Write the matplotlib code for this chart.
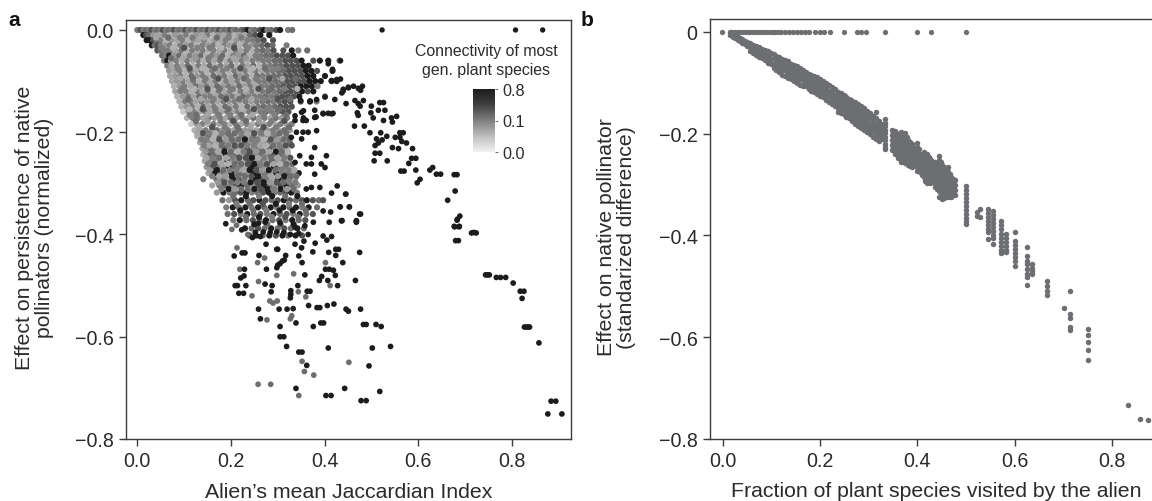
import numpy as np
import matplotlib
matplotlib.use("Agg")
import matplotlib.pyplot as plt
from matplotlib.colors import LinearSegmentedColormap, TwoSlopeNorm
from matplotlib.cm import ScalarMappable

plt.rcParams['font.family'] = ['Liberation Sans', 'DejaVu Sans']
TXT = '#2b2b2b'
SP = '#3c3c3c'

# panel a: dense cloud, rows of (y, shade digits, x values), all in thousandths
levels = [0.0, 0.04, 0.06, 0.07, 0.08, 0.1, 0.12, 0.2, 0.35, 0.8]
a_rows = [
 (0, "6857", [0,7,13,19,25,31,37,43,49,55,61,67,73,79,85,91,97,103,109,115,121,127,133,139,145,151,157,163,169,175,181,187,193,199,205,211]),
 (0, "7896", [222,229,236,243,251,262,270,278,286,297,305,322,331]),
 (-10, "9876", [13,19,25]),
 (-10, "4352", [34,46,58,70,81,92,104,116,127,138,150,162,173,184,196,208,219,230]),
 (-10, "7899", [241,252,263,282]),
 (-20, "9987", [20,27,34,41]),
 (-20, "5243", [50,62,73,85,97,108,120,131,143,155,166,178,189,201,212,224,235]),
 (-20, "6788", [247,258,270,290]),
 (-30, "9786", [31,37,44,50]),
 (-30, "4625", [58,69,81,92,104,115,127,139,150,162,173,185,196,208,219,231,243]),
 (-30, "6787", [254,266,278,289,319]),
 (-40, "8756", [43,49,56,62]),
 (-40, "5362", [71,82,94,105,117,129,140,152,163,175,186,198,210,221,233,245]),
 (-40, "676889", [256,268,279,291,312,330,344,363]),
 (-50, "7596", [53,60,68]),
 (-50, "4725", [78,89,101,112,124,136,147,159,170,182,194,205,217,228,240,252]),
 (-50, "6778889", [263,275,286,298,310,322,333]),
 (-60, "6936", [57,64,72]),
 (-60, "5263", [83,95,106,118,130,141,153,164,176,188,199,211,223,234,246,258]),
 (-60, "66778889899", [269,281,293,304,316,328,340,351,376,390,408,432]),
 (-70, "535", [64,73]),
 (-70, "6372", [85,96,108,120,131,143,155,166,178,190,201,213,225,236,248,260]),
 (-70, "667788899", [272,284,296,307,319,331,343,355,366]),
 (-80, "435", [68,79]),
 (-80, "5263", [90,102,113,125,137,148,160,172,183,195,207,218,230,242,253,265]),
 (-80, "66778889989", [277,289,301,312,324,336,348,360,372,384,417]),
 (-90, "34", [70,81]),
 (-90, "6274", [93,104,116,128,140,151,163,175,186,198,210,221,233,245,256]),
 (-90, "66778888999", [268,280,292,304,316,328,340,352,364,376,401]),
 (-100, "34", [74,85]),
 (-100, "5362", [97,109,120,132,144,155,167,179,190,202,214,225,237,249,260]),
 (-100, "6677888899999", [272,284,296,308,320,332,344,356,368,380,392,415,426]),
 (-110, "24", [78,90]),
 (-110, "6374", [101,113,125,136,148,160,171,183,195,206,218,230,241,253]),
 (-110, "6677888999", [265,277,289,301,313,325,337,349,361,373,385]),
 (-120, "35", [81,92]),
 (-120, "5263", [104,116,128,139,151,163,174,186,198,210,221,233,245,256]),
 (-120, "6767888989", [268,280,292,304,316,328,340,352,364,376]),
 (-130, "24", [85,97]),
 (-130, "6375", [109,120,132,144,156,167,179,191,203,214,226,238,250]),
 (-130, "67678889", [262,274,286,298,310,322,334,346,401]),
 (-140, "25", [90,102]),
 (-140, "5364", [114,125,137,149,161,172,184,196,208,219,231,243,255]),
 (-140, "67678889", [267,279,291,303,315,327,349,369,383]),
 (-150, "24", [94,105]),
 (-150, "6273", [117,129,141,152,164,176,188,199,211,223,235,247]),
 (-150, "6767888", [258,270,282,294,306,318,330]),
 (-160, "13", [98,109]),
 (-160, "5363", [121,133,145,156,168,180,192,204,215,227,239,251]),
 (-160, "676788", [263,275,287,299,311,323]),
 (-172, "25", [106,118]),
 (-172, "6374", [130,141,153,165,177,189,200,212,224,236,248,260,272,284,296,308,320]),
 (-184, "14", [115,127]),
 (-184, "5263", [139,151,163,175,186,198,210,222,234,246,258,270,282,294,306,318,330]),
 (-196, "24", [122,134]),
 (-196, "6374", [146,158,170,182,194,206,218,230,242,254,266,278,290,302,314,326]),
 (-208, "23", [128,140]),
 (-208, "7263", [152,164,176,188,200,212,224,236,248,260,272,284,296,308,320]),
 (-220, "35", [134,146]),
 (-220, "5374", [158,170,182,194,206,218,230,242,254,266,278,290,302,314,326]),
 (-232, "37", [139,151]),
 (-232, "6284", [163,175,187,199,211,223,235,247,259,271,283,295,307,319]),
 (-244, "28", [141,153]),
 (-244, "7386", [165,177,189,201,213,225,237,249,261,273,285,297,309,321]),
 (-256, "36", [144,156]),
 (-256, "5284", [168,180,192,204,216,228,240,252,264,276,288,300,312,324]),
 (-268, "48", [148,160]),
 (-268, "6397", [172,184,196,208,220,232,244,256,268,280,292,304,316,328]),
 (-280, "39", [152,165]),
 (-280, "7496", [177,189,201,213,225,237,249,261,273,285,297,309,321,333,345]),
 (-292, "57", [141,169]),
 (-292, "6398", [181,193,205,217,229,241,253,265,277,289,301,313,325,337]),
 (-304, "35", [160,175]),
 (-304, "7489", [187,199,211,223,235,247,259,271,283,295,307,319,331,343]),
 (-318, "49", [170,184]),
 (-318, "6789", [197,209,221,233,245,257,269,281,293,305,317,329,341]),
 (-333, "7898", [236,248,261,274,287,300,313,326,339,352,362,375,388,397]),
 (-333, "7489", [182,196,209,222]),
 (-347, "6979", [190,204,217,231,244,258,271,285,298,312,325,339,352,366,384]),
 (-360, "7869", [193,207,221,235,249,263,277,291,305,319,333,347,361,375]),
 (-372, "6978", [205,219,233,247,261,275,289,303,317,331,345,359]),
 (-388, "9787", [230,244,258,272,286,300,314,328,342,356]),
 (-402, "8979", [240,254,268,282,296,310,322,338,352]),
]
# panel a: second, shifted layer that breaks up the core of the cloud
a_fill = [
 (-15, "3756", [40,66,91,118,143,170,195,222]),
 (-35, "6285", [52,76,100,128,155,180,207,236]),
 (-55, "7346", [72,97,124,152,178,206,232,258]),
 (-75, "5827", [86,112,139,166,192,220,247,273,300]),
 (-95, "3768", [92,119,146,173,200,228,254,282,310,338]),
 (-115, "6287", [96,122,150,176,204,232,259,286,314,342]),
 (-135, "7358", [109,136,163,190,218,245,272,300,327]),
 (-155, "2867", [112,140,167,195,222,249,277,304]),
 (-166, "5736", [112,126,150,174,198,222,246,270,294,318]),
 (-178, "7468", [125,150,178,205,232,260,287,314]),
 (-190, "3867", [132,160,187,214,242,270,297,324]),
 (-202, "8276", [140,167,194,222,250,277,304]),
 (-202, "3657", [128,154,181,208,236,264,291,318]),
 (-214, "5879", [148,175,202,230,257,285,312]),
 (-214, "6247", [137,161,189,216,244,271,299,325]),
 (-226, "3786", [152,180,208,235,262,290,317]),
 (-226, "5268", [142,166,194,222,249,276,304,330]),
 (-238, "7928", [158,186,214,240,268,296,322]),
 (-238, "4376", [146,172,200,227,254,282,309]),
 (-250, "6389", [160,190,218,245,272,300,327]),
 (-250, "3768", [148,175,204,232,258,286,314]),
 (-262, "8279", [165,194,222,250,277,305,332]),
 (-262, "5378", [151,180,208,236,264,291,319]),
 (-274, "9638", [170,198,226,254,281,309,336]),
 (-274, "4769", [155,184,212,240,268,295,323]),
 (-286, "3979", [175,202,230,258,286,314,340]),
 (-286, "6478", [160,188,216,244,272,300,328]),
 (-298, "8699", [186,214,242,270,298,325]),
 (-298, "4768", [172,200,228,256,284,312,338]),
 (-311, "9799", [195,222,250,278,306,334]),
 (-311, "6478", [180,208,236,264,292,320]),
 (-325, "7969", [205,232,260,288,316,342]),
 (-340, "6789", [212,240,268,296,324,352]),
 (-353, "9769", [220,248,276,304,332,360]),
 (-366, "7968", [232,260,288,316,344]),
 (-380, "9789", [250,278,306,334]),
]
a_top_x = [523, 808, 866]
a_top_y = [0, 0, 0]

# panel a: readable individual dots
a_dark_x = [.339,.403,.414,.443,.478,.489,.518,.362,.495,.408,.502,.541,.345,.352,.319,.305,.313,.305,.376,.339,.398,.392,.263,.259,.303,.320,.333,.390,.384,.406,.420,.366,.446,.451,.477,.489,.483,.510,.521,.327,.328,.328,.369,.363,.217,.227,.209,.214,.232,.273,.288,.286,.343,.428,.466,.407,.389,.394,.221,.228,.358,.229,.276,.298,.305,.314,.300,.310,.402,.410,.419,.423,.439,.207,.230,.224,.260,.317,.345,.352,.375,.409,.424,.430,.424,.475,.275,.298,.300,.337,.351,.246,.263,.189,.223,.252,.269,.284,.298,.313,.327,.345,.365,.380,.356,.397,.415,.405,.305,.337,.358,.376,.410,.437,.468,.259,.273,
 .434,.434,.440,.451,.462,.472,.481,.477,.437,.446,.465,.472,.483,.476,.500,.518,.526,.515,.529,.499,.504,.526,.470,.472,.543,.554,.545,.464,.485,.497,.520,.533,.511,.515,.523,.508,.551,.561,.568,.561,.565,.575,.588,.545,.558,.508,.518,.506,.534,.580,.586,.595,.563,.570,.595,.625,.631,.639,.648,.677,.683,.598,.604,.679,.663,.689,.684,.677,.688,.719,.437,.468,.477,
 .683,.678,.687,.714,.724,.680,.686,.744,.748,.752,.767,.776,.787,.803,.818,.826,.822,.827,.831,.835,.838,.858,.884,.894,.877,.907,
 .351,.361,.354,.337,.379,.397,.408,.418,.383,.365,.354,.340,.329,.351,.379,.404,.347,.372,.361,.372,.337,.401,.393,.379,.39,.427,.415,.445,.372,.361,.433,.453,.413,.397,.436,.468,.475,
 .417,.408,.426,.415,.451,.44,.422,.401,.383,.369,.349,.355,.379,.397,.415,.382,.355,.337]
a_dark_y = [-.701,-.715,-.715,-.701,-.725,-.725,-.707,-.656,-.657,-.622,-.622,-.619,-.630,-.630,-.619,-.600,-.600,-.580,-.580,-.573,-.573,-.573,-.565,-.546,-.546,-.546,-.545,-.543,-.543,-.539,-.536,-.539,-.546,-.550,-.546,-.576,-.576,-.576,-.580,-.524,-.517,-.510,-.511,-.511,-.515,-.515,-.500,-.500,-.500,-.497,-.500,-.512,-.500,-.500,-.490,-.490,-.490,-.482,-.485,-.481,-.479,-.468,-.468,-.465,-.457,-.450,-.460,-.452,-.468,-.468,-.470,-.480,-.455,-.442,-.436,-.436,-.441,-.441,-.442,-.455,-.434,-.435,-.429,-.429,-.441,-.435,-.419,-.429,-.429,-.419,-.426,-.406,-.404,-.379,-.391,-.396,-.395,-.396,-.395,-.396,-.400,-.398,-.400,-.417,-.413,-.403,-.404,-.411,-.377,-.386,-.383,-.376,-.376,-.373,-.376,-.378,-.376,
 -.060,-.096,-.119,-.112,-.110,-.114,-.110,-.118,-.123,-.144,-.138,-.144,-.138,-.149,-.149,-.142,-.142,-.157,-.157,-.162,-.172,-.177,-.162,-.167,-.172,-.169,-.180,-.188,-.188,-.201,-.201,-.208,-.213,-.221,-.215,-.226,-.210,-.210,-.201,-.201,-.218,-.221,-.232,-.230,-.232,-.241,-.241,-.256,-.256,-.261,-.251,-.251,-.276,-.276,-.274,-.274,-.269,-.282,-.282,-.283,-.283,-.299,-.292,-.315,-.333,-.364,-.370,-.384,-.384,-.396,-.373,-.373,-.360,
 -.372,-.385,-.385,-.397,-.397,-.412,-.412,-.479,-.479,-.479,-.484,-.484,-.484,-.495,-.511,-.511,-.525,-.581,-.581,-.581,-.581,-.612,-.726,-.726,-.751,-.751,
 -.161,-.177,-.177,-.177,-.171,-.163,-.163,-.163,-.197,-.200,-.200,-.200,-.210,-.213,-.230,-.246,-.246,-.249,-.262,-.262,-.259,-.269,-.262,-.282,-.308,-.305,-.319,-.321,-.308,-.311,-.346,-.346,-.356,-.354,-.373,-.374,-.360,
 -.077,-.066,-.097,-.099,-.113,-.116,-.136,-.131,-.136,-.139,-.138,-.158,-.157,-.164,-.164,-.170,-.172,-.168]
a_grey_x = [.258,.285,.345,.377,.357,.352,.452,.277,.330,.327,.283,.290,.299,.245,.360,.344,.259,.412,.298,.219,.257,.272,.236,.202,.212,.334,.402,.213,.446,.434,.453]
a_grey_y = [-.693,-.693,-.715,-.675,-.668,-.648,-.650,-.567,-.559,-.565,-.530,-.534,-.530,-.520,-.522,-.512,-.492,-.500,-.480,-.468,-.455,-.446,-.400,-.390,-.382,-.477,-.455,-.426,-.321,-.346,-.346]

cbar_ticks = [0.0, 0.1, 0.8]

# panel b: top row and columns (x, y values) in thousandths
b_top_x = [-1,18,24,30,36,42,48,54,60,66,72,78,84,90,96,102,108,114,120,128,136,144,152,160,168,176,189,200,208,221,249,276,284,294,333,400,428,500]
b_cols = [
 (15,[-1,-6]),(20,[-3,-9]),(25,[-6,-12]),(30,[-9,-15]),(35,[-12,-18]),(40,[-14,-21]),(45,[-17,-24]),(50,[-20,-28]),
 (56,[-22,-30,-37]),(62,[-25,-33,-41]),(68,[-28,-37,-45]),(74,[-30,-40,-49]),(80,[-33,-44,-52]),(86,[-36,-46,-56]),(92,[-38,-50,-60]),(98,[-41,-53,-63]),
 (104,[-43,-52,-62,-70]),(110,[-47,-57,-66,-74]),(116,[-49,-59,-69,-78]),(122,[-53,-62,-72,-84]),(128,[-56,-65,-75,-86]),(134,[-58,-69,-80,-90]),(140,[-62,-72,-82,-92]),(146,[-64,-75,-85,-97]),
 (152,[-67,-78,-90,-100]),(158,[-70,-82,-92,-104]),(164,[-74,-85,-95,-107]),(170,[-78,-88,-98,-106]),(176,[-82,-90,-100,-112]),(182,[-84,-94,-104,-116]),(188,[-86,-97,-108,-118]),(194,[-88,-100,-110,-121]),
 (200,[-92,-104,-115,-125]),(206,[-96,-108,-118,-128]),(212,[-100,-112,-122,-133]),(218,[-104,-116,-126,-137]),(224,[-108,-120,-130,-141]),(230,[-112,-124,-134,-146]),
 (236,[-118,-128,-138,-150,-157]),(242,[-120,-130,-142,-152,-160]),(248,[-124,-134,-146,-156,-162]),(254,[-128,-138,-150,-160,-168]),(260,[-131,-142,-153,-163,-170]),(266,[-135,-146,-156,-167,-175]),
 (272,[-138,-150,-160,-171,-180]),(278,[-142,-153,-164,-175,-184]),(284,[-146,-157,-168,-178,-188]),(290,[-150,-160,-172,-182,-192]),(296,[-155,-165,-176,-186,-197]),(302,[-160,-170,-180,-190,-201]),
 (308,[-165,-175,-185,-195,-206]),(314,[-170,-180,-190,-200,-210]),(320,[-175,-184,-194,-204,-214]),(326,[-181,-190,-200,-210]),(315,[-158]),
 (333,[-171,-178,-185,-192,-199,-206,-213,-220,-227,-230]),
 (347,[-193,-202,-212,-222,-232]),(354,[-194,-204,-214,-224,-234,-240]),(361,[-200,-210,-220,-230,-240,-247]),(367,[-196,-206,-216,-226,-236,-246,-255]),(374,[-198,-208,-218,-228,-238,-248,-258]),(381,[-212,-222,-232,-242,-252,-262]),(388,[-220,-230,-240,-250,-260,-266]),
 (399,[-218,-226,-234,-242,-250,-258,-266,-273]),(406,[-240,-250,-260,-268,-275]),(413,[-236,-246,-256,-266,-276,-286]),(419,[-240,-250,-260,-270,-280,-290,-296]),(426,[-250,-260,-270,-280,-290,-297]),(433,[-255,-265,-275,-285,-295]),(440,[-258,-268,-278,-288,-298,-308]),
 (444,[-243,-251,-259,-270,-280,-290,-300,-312,-325]),(451,[-262,-272,-282,-292,-302,-312,-322,-329]),(458,[-270,-280,-290,-300,-310,-320]),(464,[-266,-275,-285,-295,-305,-315,-325]),(470,[-285,-295,-305,-315,-325]),(477,[-290,-300,-310,-320]),
 (500,[-302,-310,-318,-326,-334,-342,-350,-358,-366,-372,-377]),
 (522,[-353,-362]),(528,[-348,-364]),
 (546,[-348,-356,-364,-372,-380,-388,-394,-407]),(556,[-351,-359,-367,-375,-383,-391,-399,-404,-417]),
 (572,[-371,-379,-387,-397,-405,-413,-421,-429,-434]),(583,[-397,-405,-413,-421,-428,-432]),
 (600,[-393,-410,-418,-426,-434,-442,-450,-459]),
 (625,[-423,-440,-450,-456,-466,-476,-482,-497]),(636,[-456,-464,-470,-476]),
 (666,[-489,-500,-509,-516]),(701,[-542]),(714,[-509,-554,-563,-579,-585]),
 (751,[-583,-595,-609,-626,-644]),(834,[-733]),(858,[-761]),(875,[-763]),
]
# panel b: more dots inside the dense band
b_fill = [
 (59,[-29,-36]),(71,[-34,-42]),(83,[-39,-48]),(95,[-46,-56]),(107,[-50,-60,-68]),(119,[-55,-66,-76]),(131,[-62,-72,-82]),(143,[-68,-79,-90]),
 (155,[-74,-86,-97]),(167,[-80,-91,-102]),(179,[-86,-96,-108]),(191,[-92,-104,-115]),(203,[-98,-110,-121]),(215,[-106,-118,-130]),(227,[-114,-127,-140]),
 (239,[-122,-133,-145,-154]),(251,[-126,-140,-153,-164]),(263,[-133,-148,-160,-172]),(275,[-144,-156,-168,-180]),(287,[-152,-164,-176,-188]),(299,[-162,-172,-184,-196]),(311,[-172,-184,-194,-206]),(323,[-180,-188,-198,-208]),
 (350,[-197,-208,-218,-228]),(357,[-198,-209,-219,-229,-238]),(364,[-202,-214,-226,-238,-248]),(371,[-204,-214,-224,-234,-244,-254]),(378,[-206,-216,-226,-236,-246,-256]),(385,[-216,-226,-236,-246,-256,-263]),
 (392,[-228,-238,-248,-258]),(403,[-230,-246,-256,-264,-272]),(410,[-240,-251,-261,-271,-281]),(416,[-242,-252,-264,-274,-284,-292]),(423,[-246,-256,-266,-276,-286,-295]),(430,[-254,-264,-274,-284,-294]),(437,[-256,-266,-276,-286,-296,-304]),
 (448,[-256,-266,-276,-286,-296,-306,-318]),(454,[-266,-276,-286,-296,-306,-316,-326]),(461,[-272,-282,-292,-302,-312,-322]),(467,[-280,-290,-300,-310,-320]),(474,[-288,-298,-308,-318]),
]

x_ticks_a = [0.0, 0.2, 0.4, 0.6, 0.8]
x_ticks_b = [0.0, 0.2, 0.4, 0.6, 0.8]
y_ticks = [0.0, -0.2, -0.4, -0.6, -0.8]
y_ticks_b = [0, -0.2, -0.4, -0.6, -0.8]

W, H = 1152, 502
fig = plt.figure(figsize=(W/100, H/100), dpi=100)

def box(l, t, r, b):
    return [l/W, 1-b/H, (r-l)/W, (b-t)/H]

cmap = LinearSegmentedColormap.from_list('g', ['#f2f2f2', '#bdbdbd', '#808080', '#404040', '#1c1c1c'])
norm = TwoSlopeNorm(vmin=0.0, vcenter=0.1, vmax=0.8)

def minus(v):
    return f"{v:.1f}".replace('-', '\u2212')

axa = fig.add_axes(box(126, 20.5, 571, 440))
axa.set_xlim(-0.0241, 0.9265)
axa.set_ylim(-0.8, 0.0205)
xs, ys, cs = [], [], []
for y, sh, row in a_rows + a_fill:
    for i, x in enumerate(row):
        xs.append(x/1000); ys.append(y/1000); cs.append(levels[int(sh[i % len(sh)])])
axa.scatter(xs, ys, s=20, c=cs, cmap=cmap, norm=norm, linewidths=0, zorder=2)
axa.scatter(a_grey_x, a_grey_y, s=17, c=[0.2]*len(a_grey_x), cmap=cmap, norm=norm, linewidths=0, zorder=3)
axa.scatter(a_dark_x, a_dark_y, s=17, c=[0.8]*len(a_dark_x), cmap=cmap, norm=norm, linewidths=0, zorder=3)
axa.scatter(np.array(a_top_x)/1000, a_top_y, s=15, c=[0.8]*3, cmap=cmap, norm=norm, linewidths=0, zorder=3)
axa.set_xticks(x_ticks_a); axa.set_xticklabels([minus(v) for v in x_ticks_a])
axa.set_yticks(y_ticks); axa.set_yticklabels([minus(v) for v in y_ticks])
axa.set_xlabel("Alien\u2019s mean Jaccardian Index", fontsize=15.3, color=TXT, labelpad=8.5)
axa.set_ylabel("Effect on persistence of native\npollinators (normalized)", fontsize=15.3, color=TXT, linespacing=1.05)
axa.yaxis.set_label_coords((54-126)/445, 0.505)

axb = fig.add_axes(box(710, 20, 1152, 440))
axb.set_xlim(-0.0267, 0.8827)
axb.set_ylim(-0.8, 0.0255)
bx, by = [], []
for x, col in b_cols + b_fill:
    for y in col:
        bx.append(x/1000); by.append(y/1000)
axb.scatter(np.array(b_top_x)/1000, np.zeros(len(b_top_x)), s=14.5, c='#6d6e71', linewidths=0, zorder=2, clip_on=False)
axb.scatter(bx, by, s=15.5, c='#6d6e71', linewidths=0, zorder=2)
axb.set_xticks(x_ticks_b); axb.set_xticklabels([minus(v) for v in x_ticks_b])
axb.set_yticks(y_ticks_b); axb.set_yticklabels(['0'] + [minus(v) for v in y_ticks_b[1:]])
axb.spines['right'].set_visible(False)
axb.set_xlabel("Fraction of plant species visited by the alien", fontsize=15.3, color=TXT, labelpad=7)
axb.xaxis.set_label_coords((936-710)/442, -0.099)
axb.set_ylabel("Effect on native pollinator\n(standarized difference)", fontsize=15.3, color=TXT, linespacing=1.05)
axb.yaxis.set_label_coords((636-710)/442, 0.482)

for ax in (axa, axb):
    for s in ax.spines.values():
        s.set_color(SP); s.set_linewidth(1.0)
    ax.tick_params(axis='both', direction='out', length=5, width=1.0, color=SP, labelcolor=TXT, labelsize=14.2, pad=4)

cax = fig.add_axes(box(473, 90, 495, 153))
cb = fig.colorbar(ScalarMappable(norm=norm, cmap=cmap), cax=cax)
cb.outline.set_visible(False)
cb.set_ticks(cbar_ticks); cb.set_ticklabels([f"{v:.1f}" for v in cbar_ticks])
cb.ax.tick_params(length=2, width=0.8, color='#777777', labelsize=11.6, labelcolor=TXT, pad=3)
cb.ax.minorticks_off()

fig.text(486/W, 1-61/H, "Connectivity of most\ngen. plant species", ha='center', va='center', fontsize=11.4, color=TXT, linespacing=1.4)
fig.text(8/W, 1-21/H, "a", fontsize=15, fontweight='bold', color='#111111', va='center')
fig.text(581/W, 1-21/H, "b", fontsize=15, fontweight='bold', color='#111111', va='center')

fig.savefig('out.png', dpi=100)
